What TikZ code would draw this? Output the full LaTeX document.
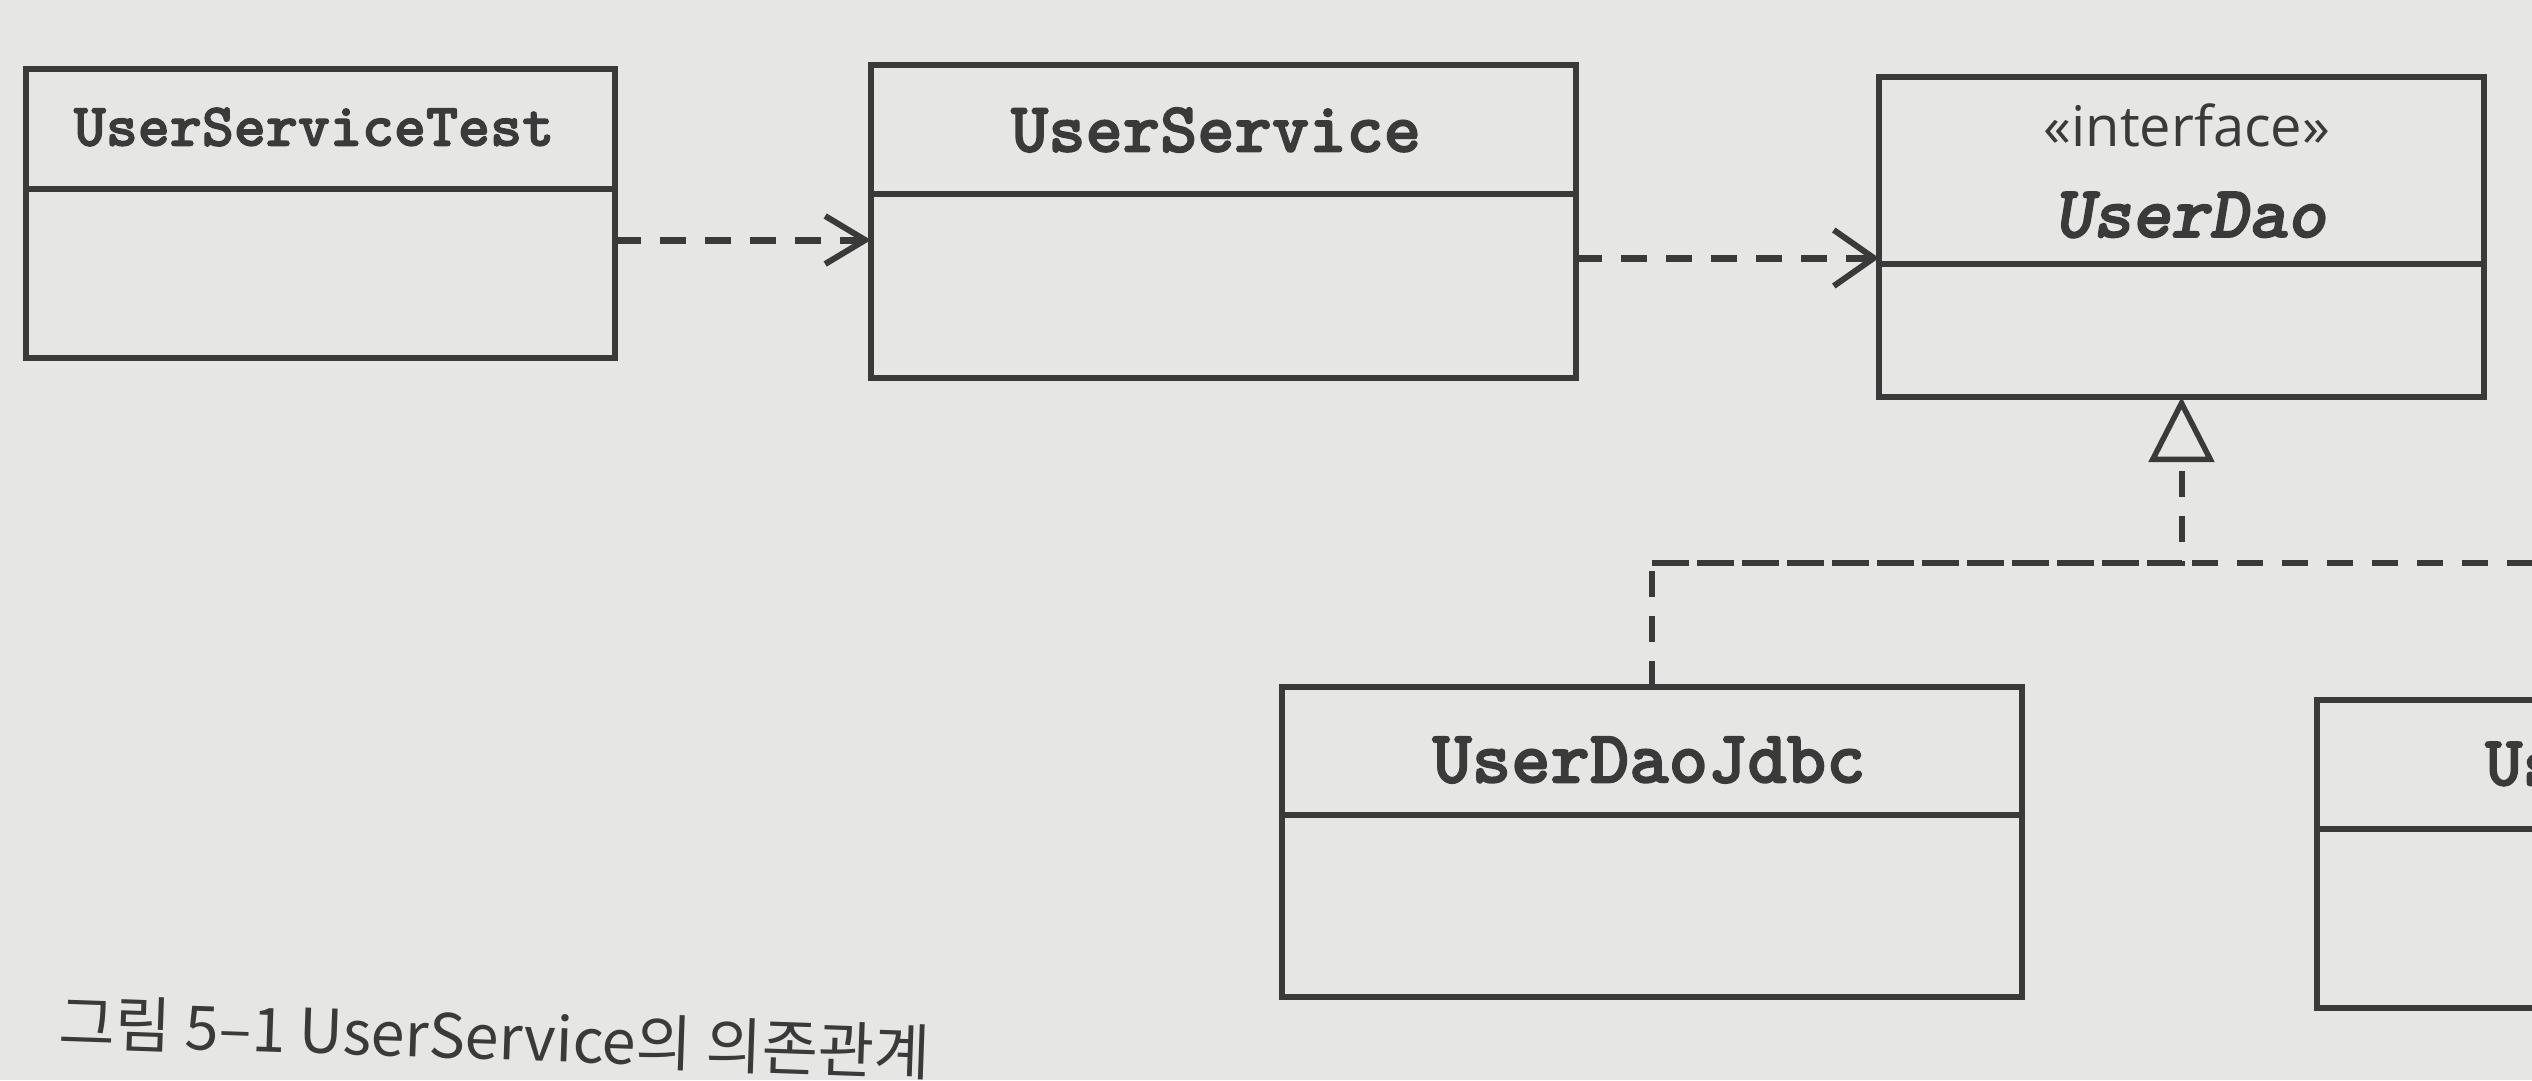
\documentclass[tikz,border=0pt]{standalone}
\usepackage{fontspec}
\newfontfamily\slabmono{lmmonolt10-bold.otf}[FakeBold=2]
\newfontfamily\slabmonoit{lmmonolt10-boldoblique.otf}[FakeBold=2]
\newfontfamily\krfont{Noto Sans CJK KR}
\newfontfamily\stereofont{Open Sans}
\usetikzlibrary{arrows.meta}
\definecolor{paper}{RGB}{230,230,228}
\definecolor{ink}{RGB}{58,58,58}
\tikzset{
  cls/.style={draw=ink, line width=6pt, inner sep=0pt, outer sep=0pt},
  divline/.style={draw=ink, line width=6pt},
  clsname/.style={text=ink, inner sep=0pt},
  dep/.style={draw=ink, line width=7pt, dash pattern=on 26pt off 19pt,
    -{Straight Barb[length=40pt,width=#1,line width=6pt]}},
  dep/.default=52pt,
  realize/.style={draw=ink, line width=6pt, dash pattern=on 26pt off 19pt},
}
\newcommand{\mono}[1]{\slabmono\fontsize{#1}{#1}\selectfont}
\newcommand{\monoit}[1]{\slabmonoit\fontsize{#1}{#1}\selectfont}
\begin{document}
\begin{tikzpicture}[x=1pt,y=-1pt]
\useasboundingbox (0,0) rectangle (2532,1080);
\fill[paper] (0,0) rectangle (2532,1080);
\begin{scope}
\clip (0,0) rectangle (2532,1080);
% class boxes
\node[cls, minimum width=589pt, minimum height=289pt] (ust) at (320.5,213.5) {};
\node[cls, minimum width=705pt, minimum height=313pt] (us) at (1223.5,221.5) {};
\node[cls, minimum width=605pt, minimum height=320pt] (dao) at (2181.5,237) {};
\node[cls, minimum width=740pt, minimum height=310pt] (jdbc) at (1652,842) {};
\node[cls, minimum width=380pt, minimum height=308pt] (other) at (2507,854) {};
% dividers
\coordinate (d1) at (0,189);
\coordinate (d2) at (0,194);
\coordinate (d3) at (0,264);
\coordinate (d4) at (0,815);
\coordinate (d5) at (0,829);
\draw[divline] (ust.west |- d1) -- (ust.east |- d1);
\draw[divline] (us.west |- d2) -- (us.east |- d2);
\draw[divline] (dao.west |- d3) -- (dao.east |- d3);
\draw[divline] (jdbc.west |- d4) -- (jdbc.east |- d4);
\draw[divline] (other.west |- d5) -- (other.east |- d5);
% names
\node[clsname, font=\mono{61}] (ustname) at (314,127) {UserServiceTest};
\node[clsname, font=\mono{71}] (usname) at (1216,130) {UserService};
\node[clsname, font=\stereofont\fontsize{56}{56}\selectfont] (ster) at (2187,125) {«interface»};
\node[clsname, font=\monoit{74}] (daoname) at (2190,215) {UserDao};
\node[clsname, font=\mono{75}] (jdbcname) at (1649,760) {UserDaoJdbc};
\node[clsname, font=\mono{71}, anchor=west] (othername) at (2485,764) {Us};
% dependencies
\coordinate (a1) at (0,240);
\coordinate (a2) at (0,258);
\draw[dep=48pt] (ust.east |- a1) -- (us.west |- a1);
\draw[dep=56pt] (us.east |- a2) -- (dao.west |- a2);
% realization
\coordinate (jn) at (1652,563);
\coordinate (rend) at (2560,563);
\draw[realize, -{Triangle[open,length=65pt,width=65pt,line width=5.5pt]}]
  (jdbc.north) -- (jn) -| (dao.south);
\draw[realize] (jn) -- (rend);
\end{scope}
% caption
\node[text=ink, inner sep=0pt, rotate=-2, font=\krfont\fontsize{61}{61}\selectfont] (cap) at (495,1037) {그림 5–1 UserService의 의존관계};
\end{tikzpicture}
\end{document}
